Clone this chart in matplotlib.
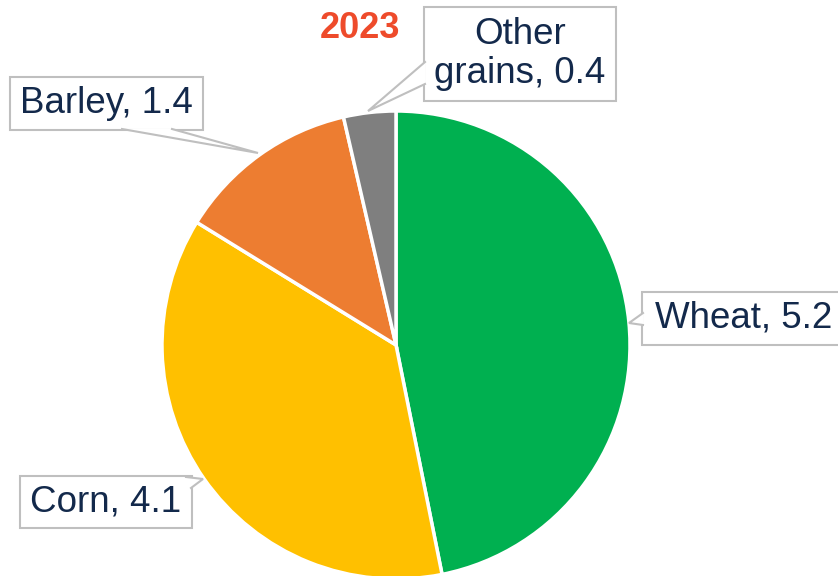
import matplotlib.pyplot as plt
from matplotlib.patches import Rectangle, Polygon

plt.rcParams['font.family'] = ['Liberation Sans', 'DejaVu Sans']

grains = ['Wheat', 'Corn', 'Barley', 'Other grains']
values = [5.2, 4.1, 1.4, 0.4]
colors = ['#00B050', '#FFC000', '#ED7D31', '#7F7F7F']
label_text = ['Wheat, 5.2', 'Corn, 4.1', 'Barley, 1.4', 'Other\ngrains, 0.4']

H = 576
fig = plt.figure(figsize=(8.38, 5.76), dpi=100)
ax = fig.add_axes([0, 0, 1, 1])

ax.pie(values, colors=colors, startangle=90, counterclock=False,
       center=(396, H - 345), radius=234,
       wedgeprops=dict(edgecolor='white', linewidth=2.5))
ax.set_xlim(0, 838)
ax.set_ylim(0, H)
ax.set_aspect('equal')
ax.axis('off')

ax.text(360, H - 28, '2023', color='#EE4B2B', fontsize=26, fontweight='bold',
        ha='center', va='center')

# callout boxes in pixel coords (x0, y0, x1, y1), y measured from top
boxes = [(642, 292, 845, 345), (20, 476, 192, 528),
         (10, 77, 203, 130), (424, 7, 616, 101)]
# callout pointer: two base points on the box edge + tip
pointers = [[(643, 313), (629, 323), (643, 325)],
            [(186, 477), (203, 479), (191, 488)],
            [(122, 129), (258, 153), (172, 129)],
            [(425, 62), (368, 111), (425, 84)]]

edge = '#BFBFBF'
for txt, (x0, y0, x1, y1), ptr in zip(label_text, boxes, pointers):
    ax.add_patch(Rectangle((x0, H - y1), x1 - x0, y1 - y0, fc='white',
                           ec=edge, lw=1.5, zorder=3))
    pts = [(px, H - py) for px, py in ptr]
    ax.add_patch(Polygon(pts, closed=True, fc='white', ec='none', zorder=4))
    ax.plot([p[0] for p in pts], [p[1] for p in pts], color=edge, lw=1.5,
            zorder=5, solid_joinstyle='miter')
    ax.text((x0 + x1) / 2, H - (y0 + y1) / 2, txt, ha='center', va='center',
            fontsize=26.5, color='#13294B', linespacing=1.15, zorder=6)

fig.savefig('out.png', dpi=100)
